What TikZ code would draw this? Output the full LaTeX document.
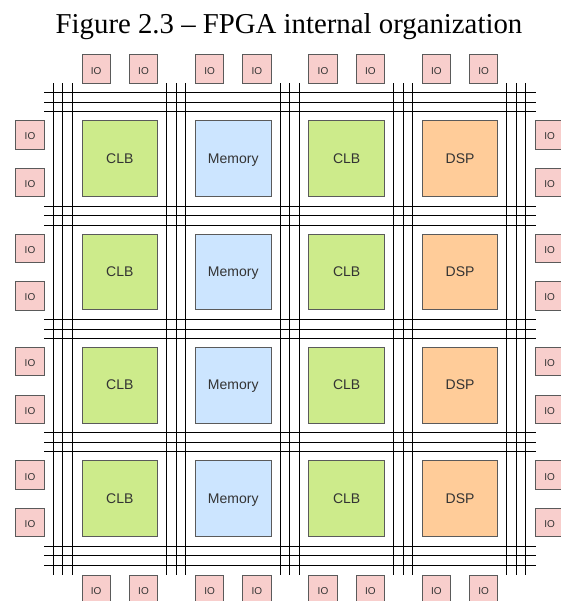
\documentclass[tikz,border=0pt]{standalone}
\usepackage{fontspec}
\setmainfont{Liberation Serif}
\setsansfont{Liberation Sans}

\definecolor{ioRosa}{HTML}{F8CECC}
\definecolor{clbVerde}{HTML}{CDEB8B}
\definecolor{memAzul}{HTML}{CCE5FF}
\definecolor{dspNaranja}{HTML}{FFCC99}
\definecolor{bordeGris}{HTML}{5A5A5A}
\definecolor{textoGris}{HTML}{333333}

\begin{document}
\begin{tikzpicture}[x=1pt,y=-1pt,
    bloque/.style={draw=bordeGris,line width=1pt,minimum size=75.7pt,inner sep=0pt,text=textoGris,text height=2.2ex,text depth=.25ex,font=\sffamily\fontsize{14}{14}\selectfont},
    io/.style={draw=bordeGris,fill=ioRosa,line width=1pt,minimum size=28.4pt,inner sep=0pt,text=textoGris,text height=2.45ex,text depth=.25ex,font=\sffamily\fontsize{10}{10}\selectfont},
    canal/.style={line width=0.9pt,black}]

    \def\paso{113.4}
    \def\lado{75.7}
    \def\sepc{9.5}

    \useasboundingbox (0,0) rectangle (560,601);

    %Titulo
    \node[anchor=base,font=\fontsize{28.8}{28.8}\selectfont] (titulo) at (289,34) {Figure 2.3 -- FPGA internal organization};

    %Canales verticales
    \foreach \i in {0,...,4}{
    \foreach \m in {0,1,2}
        \draw[canal] ({53.3+\m*\sepc+\i*\paso},83.3)--({53.3+\m*\sepc+\i*\paso},575);
    }

    %Canales horizontales
    \foreach \j in {0,...,4}{
    \foreach \m in {0,1,2}
        \draw[canal] (44.3,{92.7+\m*\sepc+\j*\paso})--(535.5,{92.7+\m*\sepc+\j*\paso});
    }

    %Bloques
    \foreach \tipo/\col [count=\i from 0] in {CLB/clbVerde,Memory/memAzul,CLB/clbVerde,DSP/dspNaranja}{
    \foreach \j in {0,...,3}
        \node[bloque,fill=\col] (b\i\j) at ({82+\lado/2+\i*\paso},{120.7+\lado/2+\j*\paso}) {\tipo};
    }

    %IO arriba y abajo
    \foreach \i in {0,...,3}{
        \node[io] (ioN\i a) at ({96.2+\i*\paso},69) {IO};
        \node[io] (ioN\i b) at ({143.5+\i*\paso},69) {IO};
        \node[io] (ioS\i a) at ({96.2+\i*\paso},589.2) {IO};
        \node[io] (ioS\i b) at ({143.5+\i*\paso},589.2) {IO};
    }

    %IO izquierda y derecha
    \foreach \j in {0,...,3}{
        \node[io] (ioO\j a) at (30,{134.9+\j*\paso}) {IO};
        \node[io] (ioO\j b) at (30,{182.4+\j*\paso}) {IO};
        \node[io] (ioE\j a) at (549.7,{134.9+\j*\paso}) {IO};
        \node[io] (ioE\j b) at (549.7,{182.4+\j*\paso}) {IO};
    }

\end{tikzpicture}
\end{document}
